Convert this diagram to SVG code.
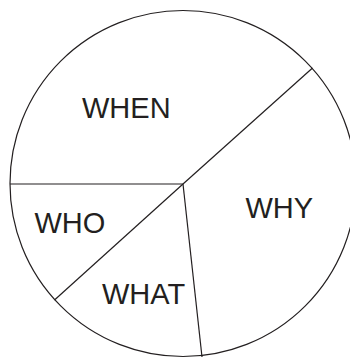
<svg xmlns="http://www.w3.org/2000/svg" width="350" height="358" viewBox="0 0 350 358">
<style>
.ln{fill:none;stroke:#231f20;stroke-width:1.2}
.lb{font-family:"Liberation Sans",Arial,sans-serif;font-size:29px;fill:#231f20}
</style>
<rect width="350" height="358" fill="#fff"/>
<g id="pie">
<circle class="ln" cx="183" cy="183.5" r="173"/>
</g>
<g id="connectors">
<line class="ln" x1="10" y1="184" x2="183" y2="184"/>
<line class="ln" x1="183" y1="184" x2="312.5" y2="68"/>
<line class="ln" x1="183" y1="184" x2="54.5" y2="300"/>
<line class="ln" x1="183" y1="184" x2="202" y2="357"/>
</g>
<g id="when"><text class="lb" x="82" y="118">WHEN</text></g>
<g id="who"><text class="lb" x="34.5" y="233">WHO</text></g>
<g id="why"><text class="lb" x="245.5" y="218">WHY</text></g>
<g id="what"><text class="lb" x="102" y="304">WHAT</text></g>
</svg>
